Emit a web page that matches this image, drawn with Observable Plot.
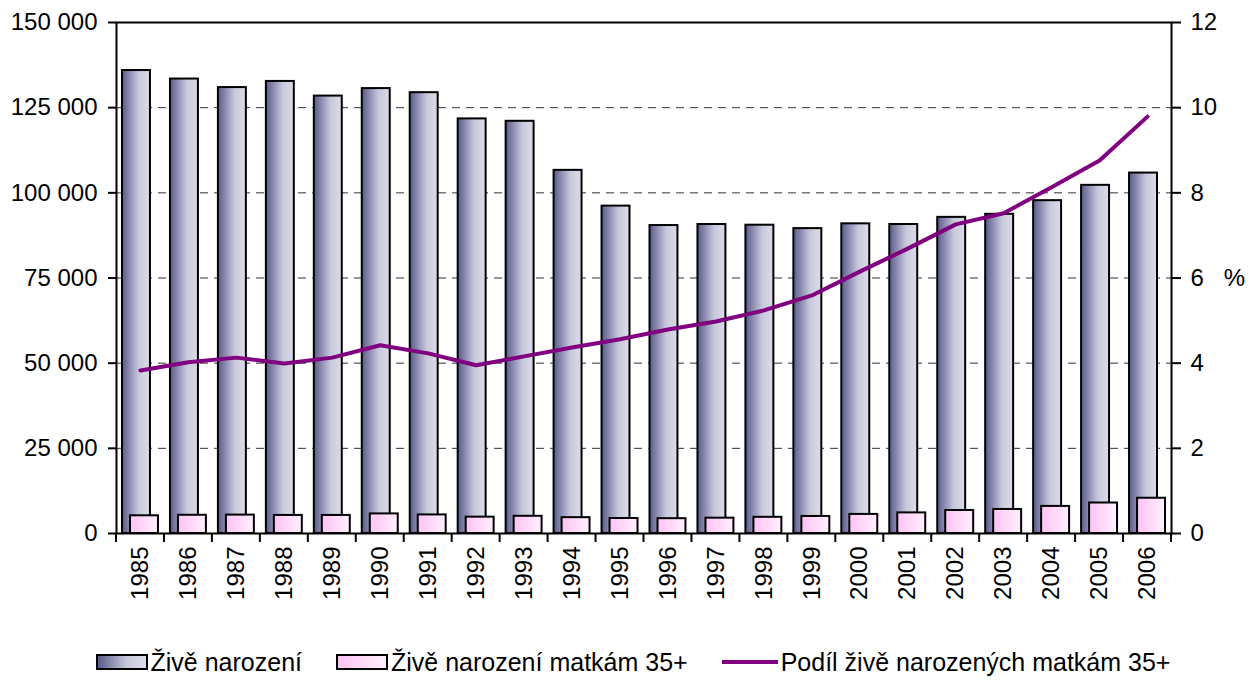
<!DOCTYPE html>
<html><head><meta charset="utf-8">
<script src="https://cdn.jsdelivr.net/npm/d3@7"></script>
<script src="https://cdn.jsdelivr.net/npm/@observablehq/plot@0.6"></script>
<style>
body{margin:0;background:#fff;font-family:"Liberation Sans",Arial,sans-serif;}
#chart{position:relative;width:1250px;height:680px;overflow:hidden;}
#legend{position:absolute;left:8px;top:648px;width:1250px;display:flex;justify-content:center;align-items:center;font-size:25px;color:#000;line-height:28px;}
.item{display:flex;align-items:center;margin:0 17px;}
.sw{box-sizing:border-box;width:52px;height:16px;border:2px solid #000;margin-right:3px;}
.dark{background:linear-gradient(to right,#5a5a8c,#c8c8dc 60%,#dcdce8);}
.pink{background:linear-gradient(to right,#ffc2f4,#fff0fd);}
.ln{width:56px;height:4px;background:#800080;margin-right:3px;}
</style></head><body>
<div id="chart"></div>
<script>
const years = ["1985","1986","1987","1988","1989","1990","1991","1992","1993","1994","1995","1996","1997","1998","1999","2000","2001","2002","2003","2004","2005","2006"];
const births = [135900,133400,130900,132700,128400,130600,129400,121700,121000,106600,96100,90400,90700,90500,89500,90900,90700,92800,93700,97700,102200,105800];
const births35 = [5200,5350,5400,5300,5300,5750,5450,4800,5050,4650,4400,4350,4500,4750,5000,5600,6050,6750,7050,7950,8950,10350];
const share35 = [3.83,4.02,4.13,3.99,4.13,4.42,4.23,3.95,4.16,4.37,4.56,4.79,4.98,5.24,5.59,6.15,6.69,7.26,7.52,8.13,8.76,9.79];
const leftTicks = [0,25000,50000,75000,100000,125000,150000];
const gridTicks = [25000,50000,75000,100000,125000];
const rightTicks = [0,2,4,6,8,10,12];
const rightMax = 12, leftMax = 150000;
const k = leftMax / rightMax;

const data = years.map((y,i)=>({year:y, births:births[i], b35:births35[i], share:share35[i]}));
const fmt = d => d3.format(",")(d).replace(/,/g," ");

function defs() {
  const svg = d3.create("svg:defs");
  const g1 = svg.append("linearGradient").attr("id","gDark").attr("x1","0").attr("x2","1").attr("y1","0").attr("y2","0");
  g1.append("stop").attr("offset","0%").attr("stop-color","#5a5a8c");
  g1.append("stop").attr("offset","60%").attr("stop-color","#c8c8dc");
  g1.append("stop").attr("offset","100%").attr("stop-color","#dcdce8");
  const g2 = svg.append("linearGradient").attr("id","gPink").attr("x1","0").attr("x2","1").attr("y1","0").attr("y2","0");
  g2.append("stop").attr("offset","0%").attr("stop-color","#ffc2f4");
  g2.append("stop").attr("offset","100%").attr("stop-color","#fff0fd");
  return svg.node();
}

function boundaryTicks(index, scales) {
  const x = scales.x, y = scales.y;
  const bw = x(years[1]) - x(years[0]);
  const y0 = y(0);
  const pos = years.map(v => x(v)).concat([x(years[years.length-1]) + bw]);
  const g = d3.create("svg:g").attr("stroke","#000").attr("stroke-width",2);
  pos.forEach(p => g.append("line").attr("x1",p).attr("x2",p).attr("y1",y0).attr("y2",y0+9));
  return g.node();
}

const plot = Plot.plot({
  width: 1250,
  height: 640,
  marginLeft: 116,
  marginRight: 79,
  marginTop: 22,
  marginBottom: 107,
  style: {fontFamily: '"Liberation Sans", Arial, sans-serif', fontSize: "24px", color: "#000", background: "#fff"},
  x: {type: "band", domain: years, padding: 0, round: false},
  y: {domain: [0, leftMax]},
  marks: [
    defs,
    Plot.gridY({ticks: gridTicks, stroke: "#333", strokeOpacity: 1, strokeWidth: 1, strokeDasharray: "8,6"}),
    Plot.barY(data, {x: "year", y: "births", fill: "url(#gDark)", stroke: "#000", strokeWidth: 2, insetLeft: 10, insetRight: 10, dx: -4}),
    Plot.barY(data, {x: "year", y: "b35", fill: "url(#gPink)", stroke: "#000", strokeWidth: 2, insetLeft: 10, insetRight: 10, dx: 4}),
    Plot.line(data, {x: "year", y: d => d.share * k, stroke: "#800080", strokeWidth: 4}),
    Plot.frame({stroke: "#000", strokeWidth: 2}),
    Plot.axisY({anchor: "left", ticks: leftTicks, tickFormat: fmt, tickSize: 8, tickPadding: 11, strokeWidth: 2, fontSize: 24, label: null}),
    Plot.axisY({anchor: "right", ticks: rightTicks.map(v => v * k), tickFormat: d => String(Math.round(d / k)), tickSize: 9, tickPadding: 10, strokeWidth: 2, fontSize: 24, label: null}),
    Plot.axisX({tickSize: 0, tickRotate: -90, tickPadding: 13, fontSize: 24, label: null}),
    boundaryTicks,
    Plot.text(["%"], {frameAnchor: "right", dx: 63, text: d => d, fontSize: 24, textAnchor: "middle"})
  ]
});
const chart = document.getElementById("chart");
chart.appendChild(plot);
const legend = document.createElement("div");
legend.id = "legend";
legend.innerHTML = '<div class="item"><div class="sw dark"></div><span>Živě narození</span></div>' +
  '<div class="item"><div class="sw pink"></div><span>Živě narození matkám 35+</span></div>' +
  '<div class="item"><div class="ln"></div><span>Podíl živě narozených matkám 35+</span></div>';
chart.appendChild(legend);
</script>
</body></html>
